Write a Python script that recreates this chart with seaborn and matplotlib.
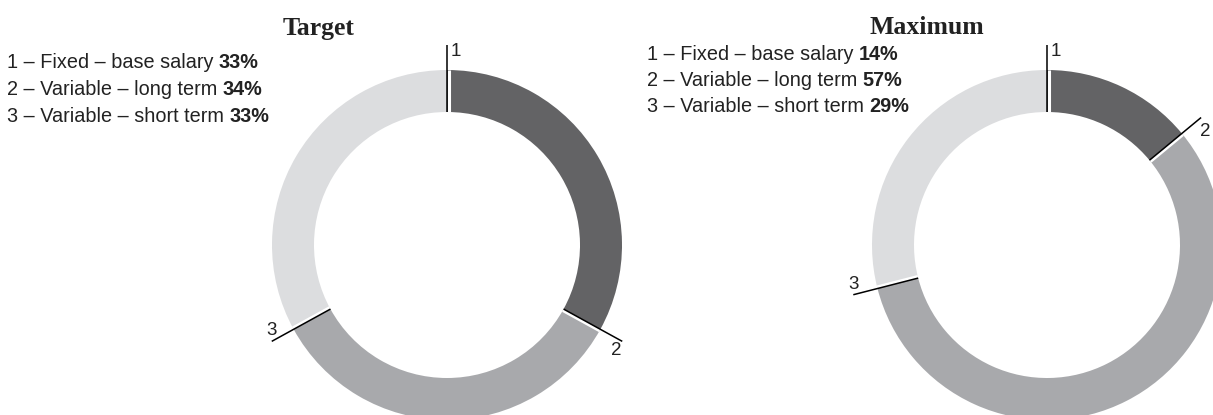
import matplotlib.pyplot as plt
import numpy as np
import seaborn as sns

# chart data
titles = ["Target", "Maximum"]
components = ["Fixed – base salary", "Variable – long term", "Variable – short term"]
target_shares = [33, 34, 33]
maximum_shares = [14, 57, 29]
segment_labels = ["1", "2", "3"]

sns.set_theme(style="white")
plt.rcParams["font.family"] = ["Liberation Sans", "DejaVu Sans"]

colors = sns.color_palette(["#636365", "#a8a9ac", "#dcdddf"])

W, H = 1213, 415
fig = plt.figure(figsize=(W / 100, H / 100), dpi=100)
ax = fig.add_axes([0, 0, 1, 1])

# layout (pixel units, y up)
R, r_in = 175, 133
panels = [
    dict(center=(447, 170), title_x=319, legend_x=7, legend_y=347, gap=27),
    dict(center=(1047, 170), title_x=927, legend_x=647, legend_y=355, gap=26),
]

for shares, title, p in zip([target_shares, maximum_shares], titles, panels):
    cx, cy = p["center"]
    ax.pie(shares, colors=colors, startangle=90, counterclock=False,
           center=(cx, cy), radius=R, frame=True,
           wedgeprops=dict(width=R - r_in, edgecolor="none", linewidth=0))

    # leader lines at segment starts
    starts = np.cumsum([0] + shares[:-1]) / sum(shares)
    for lab, b in zip(segment_labels, starts):
        th = np.deg2rad(90 - 360 * b)
        ux, uy = np.cos(th), np.sin(th)
        px, py = uy * 1.6, -ux * 1.6
        ax.plot([cx + r_in * ux + px, cx + R * ux + px],
                [cy + r_in * uy + py, cy + R * uy + py],
                color="white", lw=2.2, solid_capstyle="butt")
        ex, ey = cx + (R + 25) * ux, cy + (R + 25) * uy
        ax.plot([cx + r_in * ux, ex], [cy + r_in * uy, ey],
                color="black", lw=1.1, solid_capstyle="butt")
        if b == 0:
            ha, va, off = "left", "top", (4, 2)
        elif ux > 0 and uy < 0:
            ha, va, off = "right", "top", (-1, -1)
        elif ux > 0:
            ha, va, off = "left", "top", (-1, -5)
        else:
            ha, va, off = "center", "bottom", (0, 2)
        ax.annotate(lab, (ex, ey), xytext=off, textcoords="offset pixels",
                    ha=ha, va=va, fontsize=13.5, color="#222222")

    ax.text(p["title_x"], H - 34.5, title, ha="center", va="baseline",
            fontsize=18.5, fontweight="bold", family="Liberation Serif",
            color="#222222")

    for i, (comp, share) in enumerate(zip(components, shares)):
        t = ax.text(p["legend_x"], p["legend_y"] - i * p["gap"],
                    f"{i + 1} – {comp} ", ha="left", va="baseline",
                    fontsize=14.3, color="#222222")
        ax.annotate(f"{share}%", xy=(1, 0), xycoords=t, ha="left",
                    va="bottom", fontsize=14.3, fontweight="bold",
                    color="#222222")

ax.set_xlim(0, W)
ax.set_ylim(0, H)
ax.set_aspect("equal")
ax.axis("off")

fig.savefig("out.png", dpi=100)
